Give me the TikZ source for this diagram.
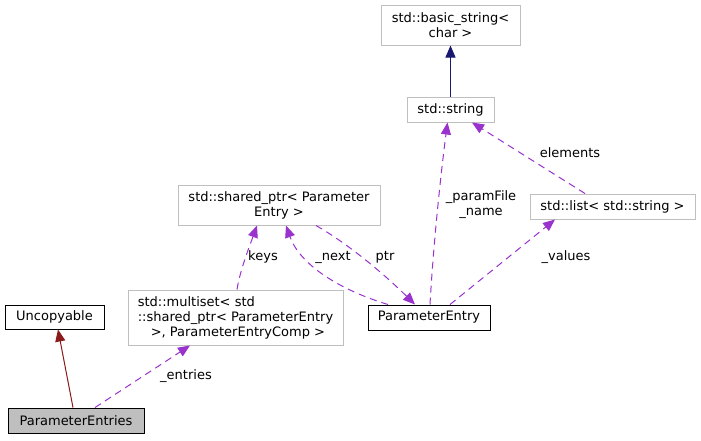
\documentclass[tikz,border=0pt]{standalone}
\usepackage{fontspec}
\setmainfont{DejaVu Sans}
\usetikzlibrary{arrows.meta,calc}
\definecolor{edgegray}{HTML}{BFBFBF}
\definecolor{purp}{HTML}{9A32CD}
\definecolor{fire}{HTML}{8B1A1A}
\definecolor{mblue}{HTML}{191970}
\tikzset{
  box/.style={draw=edgegray, line width=1pt, fill=white, inner sep=0pt, align=center, font=\fontsize{13}{15}\selectfont},
  cls/.style={box, draw=black},
  tip/.style={-{Triangle[length=12pt,width=10pt]}},
  use/.style={tip, draw=purp, line width=1pt, dash pattern=on 7pt off 5pt},
  lbl/.style={font=\fontsize{13}{15}\selectfont, inner sep=0pt, align=center},
}
\begin{document}
\begin{tikzpicture}[x=1pt,y=-1pt]
\useasboundingbox (0,0) rectangle (701,440);
\node[box, minimum width=139pt, minimum height=40pt] (basic) at (450.5,25) {std::basic\_string<\\char >};
\node[box, minimum width=87pt, minimum height=25pt] (str) at (450.5,109.5) {std::string};
\node[box, minimum width=202pt, minimum height=40pt] (shared) at (279,205) {std::shared\_ptr< Parameter\\Entry >};
\node[box, minimum width=165pt, minimum height=25pt] (list) at (612.5,206.5) {std::list< std::string >};
\node[cls, minimum width=99pt, minimum height=24pt] (unc) at (54.5,317) {Uncopyable};
\node[box, minimum width=215pt, minimum height=55pt, align=left] (ms) at (235.5,317.5) {std::multiset< std\\::shared\_ptr< ParameterEntry\\\hspace*{13pt}>, ParameterEntryComp >};
\node[cls, minimum width=122pt, minimum height=25pt] (pe) at (429,317.5) {ParameterEntry};
\node[cls, fill=edgegray, minimum width=136pt, minimum height=25pt] (pes) at (76,420.5) {ParameterEntries};

\draw[tip, draw=mblue, line width=1pt] (str.north) -- (basic.south);
\draw[tip, draw=fire, line width=1pt] ([xshift=-3pt]pes.north) -- ([xshift=3.5pt]unc.south);
\draw[use] ([xshift=19pt]pes.north) -- ([xshift=-45.5pt]ms.south);
\node[lbl] (lentries) at (186,376) {\_entries};
\draw[use] ([xshift=1.5pt]ms.north) .. controls (240,270) and (250,245) .. ([xshift=-22pt]shared.south);
\node[lbl] (lkeys) at (263,257) {keys};
\draw[use] ([xshift=-41pt]pe.north) .. controls (340,290) and (300,265) .. ([xshift=7pt]shared.south);
\node[lbl] (lnext) at (333,257) {\_next};
\draw[use] ([xshift=37pt]shared.south) .. controls (350,245) and (385,275) .. ([xshift=-14pt]pe.north);
\node[lbl] (lptr) at (385,257) {ptr};
\draw[use] ([xshift=1pt]pe.north) .. controls (433,250) and (440,180) .. ([xshift=-3pt]str.south);
\node[lbl] (lpf) at (481,205) {\_paramFile\\\_name};
\draw[use] ([xshift=21pt]pe.north) -- ([xshift=-57.5pt]list.south);
\node[lbl] (lval) at (566,257) {\_values};
\draw[use] ([xshift=-27.5pt]list.north) -- ([xshift=21.5pt]str.south);
\node[lbl] (lel) at (570,153) {elements};
\end{tikzpicture}
\end{document}
